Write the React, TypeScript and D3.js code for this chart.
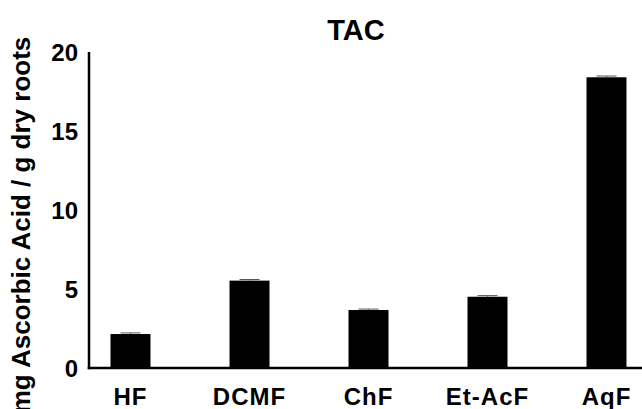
import React from "react";
import * as d3 from "d3";

const categories = ["HF", "DCMF", "ChF", "Et-AcF", "AqF"];
const values = [2.15, 5.53, 3.67, 4.51, 18.4];
const errors = [0.07, 0.07, 0.06, 0.07, 0.08];
const yTicks = [0, 5, 10, 15, 20];
const title = "TAC";
const yLabel = "mg Ascorbic Acid / g dry roots";

const W = 642;
const H = 409;
const axisX = 89;
const baseY = 368;
const topY = 52;

export default function App() {
  const y = d3.scaleLinear().domain([0, 20]).range([baseY, topY]);
  const x = d3
    .scaleBand<string>()
    .domain(categories)
    .range([71, 666])
    .paddingInner(0.664)
    .paddingOuter(0.332);
  const bw = x.bandwidth();
  const font = "'Liberation Sans', Arial, Helvetica, sans-serif";

  return (
    <svg
      width={W}
      height={H}
      style={{ position: "absolute", left: 0, top: 0, background: "#fff" }}
      fontFamily={font}
      fontWeight="bold"
    >
      <text x={356} y={40} textAnchor="middle" fontSize={29}>
        {title}
      </text>
      <text
        transform={`translate(30, 225) rotate(-90)`}
        textAnchor="middle"
        fontSize={26}
      >
        {yLabel}
      </text>
      {yTicks.map((t) => (
        <text
          key={t}
          x={78}
          y={y(t)}
          dy="0.36em"
          textAnchor="end"
          fontSize={24}
        >
          {t}
        </text>
      ))}
      {categories.map((c, i) => {
        const x0 = x(c) as number;
        const cx = x0 + bw / 2;
        const top = y(values[i] + errors[i]);
        return (
          <g key={c}>
            <rect
              x={x0}
              y={y(values[i])}
              width={bw}
              height={baseY - y(values[i])}
              fill="#000"
            />
            <line x1={cx} x2={cx} y1={y(values[i])} y2={top} stroke="#555" strokeWidth={1} />
            <line x1={cx - 10} x2={cx + 10} y1={top} y2={top} stroke="#555" strokeWidth={1} />
            <text
              x={cx}
              y={405}
              textAnchor="middle"
              fontSize={24}
              letterSpacing={1}
            >
              {c}
            </text>
          </g>
        );
      })}
      <line x1={axisX} x2={axisX} y1={topY} y2={baseY + 1.25} stroke="#000" strokeWidth={2.5} />
      <line x1={axisX - 1.25} x2={W} y1={baseY} y2={baseY} stroke="#000" strokeWidth={2.5} />
    </svg>
  );
}
